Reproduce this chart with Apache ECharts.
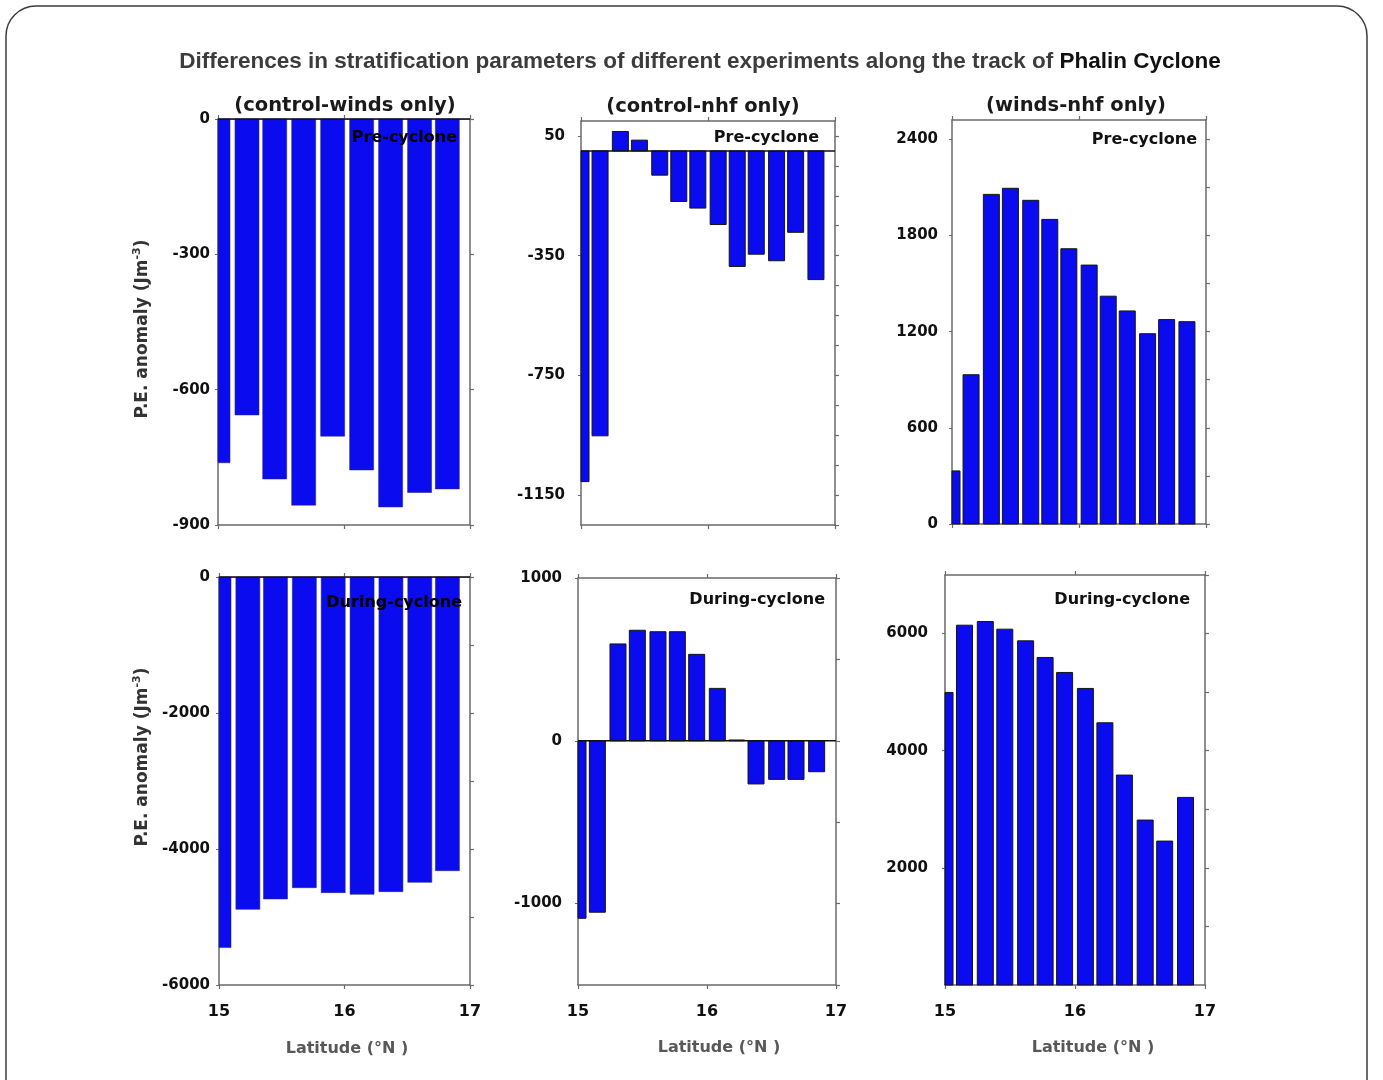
<!DOCTYPE html>
<html><head><meta charset="utf-8">
<script src="https://cdn.jsdelivr.net/npm/echarts@6/dist/echarts.min.js"></script>
<style>html,body{margin:0;padding:0;background:#fff}#c{width:1383px;height:1080px}</style>
</head><body><div id="c"></div>
<script>
// ---- data (latitudes in degrees N, P.E. anomaly in J m^-3) ----
const latA = [15.0, 15.23, 15.45, 15.68, 15.91, 16.14, 16.37, 16.6, 16.82];
const latB = [15.0, 15.15, 15.31, 15.46, 15.62, 15.77, 15.92, 16.08, 16.23, 16.38, 16.54, 16.69, 16.85];

const preWinds     = [-762, -656, -798, -856, -703, -778, -860, -828, -820];
const preNhf       = [-1105, -952, 65, 36, -81, -169, -191, -246, -386, -345, -367, -272, -430];
const preWindsNhf  = [331, 931, 2056, 2094, 2019, 1900, 1717, 1615, 1421, 1329, 1187, 1275, 1262];
const durWinds     = [-5450, -4887, -4735, -4569, -4642, -4666, -4627, -4490, -4319];
const durNhf       = [-1090, -1053, 595, 679, 670, 670, 531, 322, 5, -265, -237, -237, -190];
const durWindsNhf  = [4995, 6143, 6206, 6075, 5876, 5592, 5336, 5063, 4477, 3584, 2816, 2457, 3203];

// tick labels
const xTicks = [15, 16, 17];
const yLab1 = [0, -300, -600, -900];
const yTick1 = [0, -300, -600, -900];
const yLab2 = [50, -350, -750, -1150];
const yTick2 = [50, -50, -150, -250, -350, -450, -550, -650, -750, -850, -950, -1050, -1150, -1250];
const yLab3 = [0, 600, 1200, 1800, 2400];
const yTick3 = [0, 300, 600, 900, 1200, 1500, 1800, 2100, 2400];
const yLab4 = [0, -2000, -4000, -6000];
const yTick4 = [0, -1000, -2000, -3000, -4000, -5000, -6000];
const yLab5 = [1000, 0, -1000];
const yTick5 = [1000, 500, 0, -500, -1000, -1500];
const yLab6 = [2000, 4000, 6000];
const yTick6 = [1000, 2000, 3000, 4000, 5000, 6000, 7000];

const mainTitle = 'Differences in stratification parameters of different experiments along the track of ';
const mainTitleB = 'Phalin Cyclone';
const colTitles = ['(control-winds only)', '(control-nhf only)', '(winds-nhf only)'];
const phaseTitles = ['Pre-cyclone', 'During-cyclone'];

// ---- chart ----
const F = 'DejaVu Sans';
const BLUE = '#0b0bef';
const FRAME = '#6a6a6a';

const panels = [
  {grid:{left:218, top:119, width:252, height:406}, lat:latA, vals:preWinds, min:-900, max:0, lab:yLab1, tk:yTick1, lm:8, bw:24, soft:true, xl:false, zero:true},
  {grid:{left:581, top:121, width:254, height:404}, lat:latB, vals:preNhf, min:-1250, max:100, lab:yLab2, tk:yTick2, lm:16, bw:16, soft:false, xl:false, zero:true},
  {grid:{left:952, top:120, width:254, height:404}, lat:latB, vals:preWindsNhf, min:0, max:2520, lab:yLab3, tk:yTick3, lm:14, bw:16, soft:false, xl:false, zero:false},
  {grid:{left:219, top:577, width:251, height:408}, lat:latA, vals:durWinds, min:-6000, max:0, lab:yLab4, tk:yTick4, lm:9, bw:24, soft:true, xl:true, zero:true},
  {grid:{left:578, top:578, width:258, height:407}, lat:latB, vals:durNhf, min:-1500, max:1000, lab:yLab5, tk:yTick5, lm:16, bw:16, soft:false, xl:true, zero:true},
  {grid:{left:945, top:575, width:260, height:410}, lat:latB, vals:durWindsNhf, min:0, max:7000, lab:yLab6, tk:yTick6, lm:17, bw:16, soft:false, xl:true, zero:false}
];

function barRenderer(bw, fill, stroke) {
  return function (params, api) {
    const x = api.value(0), y = api.value(1);
    const p = api.coord([x, y]);
    const p0 = api.coord([x, 0]);
    const cs = params.coordSys;
    const r = echarts.graphic.clipRectByRect(
      {x: p[0] - bw / 2, y: Math.min(p[1], p0[1]), width: bw, height: Math.abs(p0[1] - p[1])},
      {x: cs.x, y: cs.y, width: cs.width, height: cs.height});
    if (!r) return null;
    return {type:'rect', shape:r, style:{fill:fill, stroke:stroke, lineWidth:1}};
  };
}

const grid = [], xAxis = [], yAxis = [], series = [];
panels.forEach((p, i) => {
  grid.push(Object.assign({containLabel:false}, p.grid));
  const line = {show:true, onZero:false, lineStyle:{color:FRAME, width:1.5}};
  xAxis.push({type:'value', gridIndex:i, position:'bottom', min:15, max:17,
    axisLine:line, splitLine:{show:false},
    axisTick:{show:true, inside:false, length:4, customValues:xTicks, lineStyle:{color:FRAME, width:1.2}},
    axisLabel:{show:p.xl, customValues:xTicks, margin:19, color:'#111', fontFamily:F, fontWeight:'bold', fontSize:16,
      formatter:v => String(v)}});
  xAxis.push({type:'value', gridIndex:i, position:'top', min:15, max:17,
    axisLine:line, splitLine:{show:false},
    axisTick:{show:true, inside:false, length:4, customValues:xTicks, lineStyle:{color:FRAME, width:1.2}},
    axisLabel:{show:false}});
  yAxis.push({type:'value', gridIndex:i, position:'left', min:p.min, max:p.max,
    axisLine:line, splitLine:{show:false},
    axisTick:{show:true, length:3, customValues:p.lab, lineStyle:{color:FRAME}},
    axisLabel:{show:true, customValues:p.lab, margin:p.lm, color:'#111', fontFamily:F, fontWeight:'bold', fontSize:15,
      formatter:v => String(v)}});
  yAxis.push({type:'value', gridIndex:i, position:'right', min:p.min, max:p.max,
    axisLine:line, splitLine:{show:false},
    axisTick:{show:true, length:4, customValues:p.tk, lineStyle:{color:FRAME, width:1.2}},
    axisLabel:{show:false}});
  series.push({type:'custom', xAxisIndex:2*i, yAxisIndex:2*i,
    encode:{x:0, y:1},
    data:p.lat.map((x, k) => [x, p.vals[k]]),
    renderItem: barRenderer(p.bw, BLUE, p.soft ? 'rgba(40,40,110,0.55)' : '#151515')});
  if (p.zero) {
    series.push({type:'line', xAxisIndex:2*i, yAxisIndex:2*i, symbol:'none', silent:true, z:5,
      data:[[15, 0], [17, 0]], lineStyle:{color:'#111', width:1.5}});
  }
});

const supRich = {
  n:{fontFamily:F, fontWeight:'bold', fontSize:17, fill:'#333', lineHeight:22},
  s:{fontFamily:F, fontWeight:'bold', fontSize:11, fill:'#333', lineHeight:22, verticalAlign:'top'}
};
const latRich = {
  n:{fontFamily:F, fontWeight:'bold', fontSize:16, fill:'#585858', lineHeight:20},
  s:{fontFamily:F, fontWeight:'bold', fontSize:16, fill:'#585858', lineHeight:20}
};

const graphic = [
  {type:'rect', shape:{x:6, y:6, width:1361, height:1130, r:30}, style:{fill:'none', stroke:'#3c3c3c', lineWidth:1.5}, z:0},
  {type:'text', x:700, y:62, style:{text:'{a|' + mainTitle + '}{b|' + mainTitleB + '}', align:'center', verticalAlign:'middle',
    rich:{a:{fontFamily:'Liberation Sans', fontWeight:'bold', fontSize:22.5, fill:'#3c3c3c'},
          b:{fontFamily:'Liberation Sans', fontWeight:'bold', fontSize:22.5, fill:'#111'}}}},
  {type:'text', x:345, y:106, style:{text:colTitles[0], font:'bold 19.5px "DejaVu Sans"', fill:'#1a1a1a', align:'center', verticalAlign:'middle'}},
  {type:'text', x:703, y:107, style:{text:colTitles[1], font:'bold 19.5px "DejaVu Sans"', fill:'#1a1a1a', align:'center', verticalAlign:'middle'}},
  {type:'text', x:1076, y:106, style:{text:colTitles[2], font:'bold 19.5px "DejaVu Sans"', fill:'#1a1a1a', align:'center', verticalAlign:'middle'}},
  {type:'text', x:457, y:138, z:100, style:{text:phaseTitles[0], font:'bold 16px "DejaVu Sans"', fill:'#000', align:'right', verticalAlign:'middle'}},
  {type:'text', x:819, y:138, z:100, style:{text:phaseTitles[0], font:'bold 16px "DejaVu Sans"', fill:'#111', align:'right', verticalAlign:'middle'}},
  {type:'text', x:1197, y:140, z:100, style:{text:phaseTitles[0], font:'bold 16px "DejaVu Sans"', fill:'#111', align:'right', verticalAlign:'middle'}},
  {type:'text', x:462, y:603, z:100, style:{text:phaseTitles[1], font:'bold 16px "DejaVu Sans"', fill:'#000', align:'right', verticalAlign:'middle'}},
  {type:'text', x:825, y:600, z:100, style:{text:phaseTitles[1], font:'bold 16px "DejaVu Sans"', fill:'#111', align:'right', verticalAlign:'middle'}},
  {type:'text', x:1190, y:600, z:100, style:{text:phaseTitles[1], font:'bold 16px "DejaVu Sans"', fill:'#111', align:'right', verticalAlign:'middle'}},
  {type:'text', x:143, y:329, rotation:Math.PI/2, style:{text:'{n|P.E. anomaly (Jm}{s|-3}{n|)}', align:'center', verticalAlign:'middle', rich:supRich}},
  {type:'text', x:143, y:757, rotation:Math.PI/2, style:{text:'{n|P.E. anomaly (Jm}{s|-3}{n|)}', align:'center', verticalAlign:'middle', rich:supRich}},
  {type:'text', x:347, y:1049, style:{text:'{n|Latitude (}{s|°}{n|N )}', align:'center', verticalAlign:'middle', rich:latRich}},
  {type:'text', x:719, y:1048, style:{text:'{n|Latitude (}{s|°}{n|N )}', align:'center', verticalAlign:'middle', rich:latRich}},
  {type:'text', x:1093, y:1048, style:{text:'{n|Latitude (}{s|°}{n|N )}', align:'center', verticalAlign:'middle', rich:latRich}}
];

const chart = echarts.init(document.getElementById('c'), null, {renderer:'canvas'});
chart.setOption({animation:false, backgroundColor:'#fff', grid, xAxis, yAxis, series, graphic});
</script>
</body></html>
